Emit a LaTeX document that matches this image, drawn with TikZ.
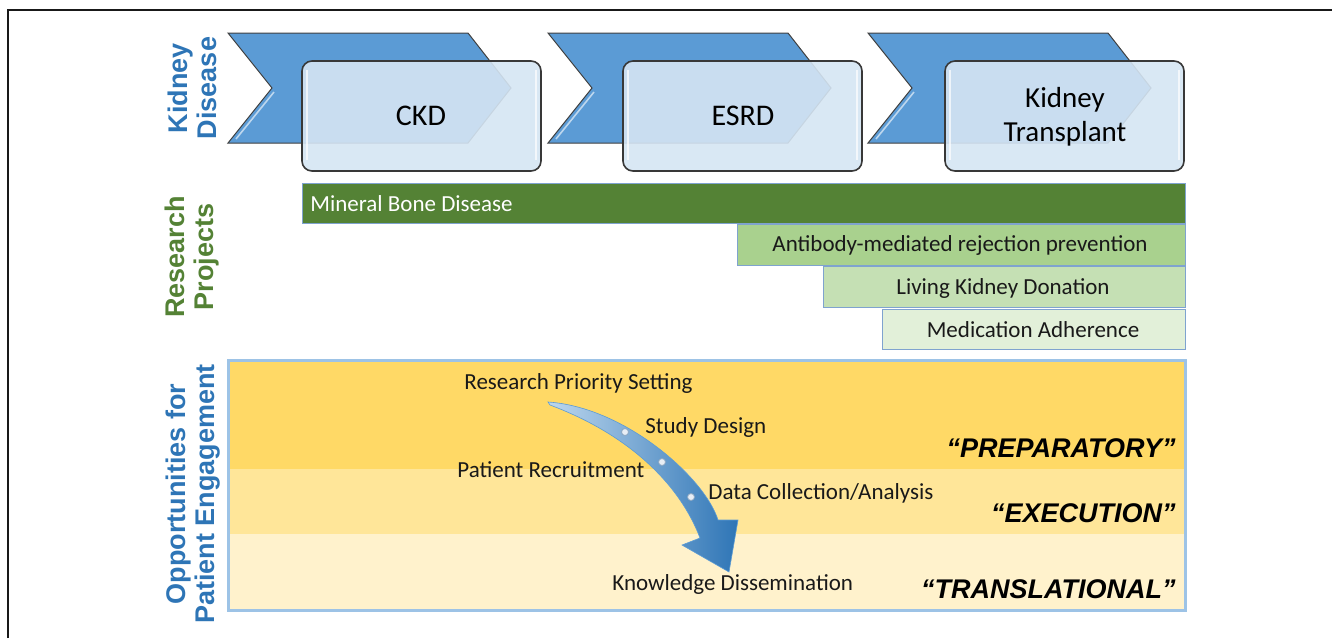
\documentclass[tikz,border=0pt]{standalone}
\usepackage{fontspec}
\setmainfont{Carlito}
\newfontfamily\arialfont{Liberation Sans}
\definecolor{chevblue}{HTML}{5B9BD5}
\definecolor{boxblue}{HTML}{D5E5F3}
\definecolor{labelblue}{HTML}{2E75B6}
\definecolor{labelgreen}{HTML}{548235}
\definecolor{greenA}{HTML}{548235}
\definecolor{greenB}{HTML}{A9D18E}
\definecolor{greenC}{HTML}{C5E0B4}
\definecolor{greenD}{HTML}{E2F0D9}
\definecolor{barline}{HTML}{7FA3CF}
\definecolor{bandA}{HTML}{FFD966}
\definecolor{bandB}{HTML}{FFE699}
\definecolor{bandC}{HTML}{FFF2CC}
\definecolor{bandframe}{HTML}{9DC3E6}
\definecolor{arrowlight}{HTML}{BDD7EE}
\definecolor{arrowmid}{HTML}{5B9BD5}
\definecolor{arrowdark}{HTML}{2E75B6}
\definecolor{dotfill}{HTML}{E8EEF5}
\definecolor{dotline}{HTML}{8AA6C2}
\begin{document}
\begin{tikzpicture}[x=0.5pt,y=-0.5pt,
  chev/.style={fill=chevblue, draw=black!75, line width=0.5pt, line join=miter},
  stagebox/.style={fill=boxblue, fill opacity=0.9, draw=black!78, line width=0.8pt, rounded corners=5pt},
  stagetext/.style={font=\fontsize{15}{17}\selectfont, align=center, text=black, inner sep=0pt},
  sidelabel/.style={rotate=90, align=center, inner sep=0pt, font=\arialfont\bfseries\fontsize{13.5}{14.5}\selectfont},
  bar/.style={draw=barline, line width=0.5pt},
  bartext/.style={font=\fontsize{11.5}{13}\selectfont, inner sep=0pt, text=black!90},
  steptext/.style={font=\fontsize{11.5}{13}\selectfont, inner sep=0pt, anchor=west, text=black!90},
  phase/.style={font=\arialfont\bfseries\itshape\fontsize{13.5}{16}\selectfont, anchor=east, inner sep=0pt}]
\useasboundingbox (0,0) rectangle (1332,638);

% outer frame (top and left edges)
\draw[line width=1pt, black!90] (8,638) -- (8,9.5) -- (1332,9.5);

% disease stages: chevrons
\foreach \x in {228,548,868} {
  \draw[chev] (\x,33) -- ++(240,0) -- ++(43,55) -- ++(-43,55) -- ++(-240,0) -- ++(44,-55) -- cycle;
  \draw[white, opacity=0.6, line width=0.8pt] (\x+46,92) -- (\x+8,139);
}
% disease stages: translucent boxes
\foreach \x in {302,623,945} {
  \draw[stagebox] (\x,61) rectangle ++(239,110);
  \draw[white, opacity=0.7, line width=0.8pt] (\x+5,70) -- (\x+5,160);
  \draw[white, opacity=0.7, line width=0.8pt] (\x+234,70) -- (\x+234,160);
}
\node[stagetext] (ckd) at (421,116) {CKD};
\node[stagetext] (esrd) at (743,116) {ESRD};
\node[stagetext, font=\fontsize{14.5}{17}\selectfont] (ktx) at (1065,117) {Kidney\\Transplant};

% research project bars
\draw[bar, fill=greenA] (302,183) rectangle (1185,223);
\node[bartext, anchor=west, text=white] (mbd) at (310,204) {Mineral Bone Disease};
\draw[bar, fill=greenB] (737,224) rectangle (1185,265);
\node[bartext] (amr) at (960,245) {Antibody-mediated rejection prevention};
\draw[bar, fill=greenC] (823,266) rectangle (1185,307);
\node[bartext] (lkd) at (1003,288) {Living Kidney Donation};
\draw[bar, fill=greenD] (882,309) rectangle (1185,349);
\node[bartext] (med) at (1033,330) {Medication Adherence};

% engagement bands
\fill[bandA] (228,360) rectangle (1185,469);
\fill[bandB] (228,469) rectangle (1185,534);
\fill[bandC] (228,534) rectangle (1185,610);
\draw[bandframe, line width=1.5pt] (228,360) rectangle (1185,610);

% curved process arrow
\shade[left color=arrowlight, middle color=arrowmid, right color=arrowdark, draw=chevblue, line width=0.3pt]
  (548,402) .. controls (625,407) and (705,478) .. (718,520)
  -- (738,520) -- (729,572) -- (682,545) -- (700,538)
  .. controls (680,485) and (630,435) .. (550,405) -- cycle;
\foreach \px/\py in {625/432,662/462,691/497} {
  \draw[fill=dotfill, draw=dotline, line width=0.4pt] (\px,\py) circle (3.5);
}

% engagement steps
\node[steptext] (rps) at (464,383) {Research Priority Setting};
\node[steptext] (sd) at (645,427) {Study Design};
\node[steptext] (pr) at (457,470) {Patient Recruitment};
\node[steptext] (dca) at (708,493) {Data Collection/Analysis};
\node[steptext] (kd) at (612,584) {Knowledge Dissemination};

% phase labels
\node[phase] (prep) at (1176,448) {“PREPARATORY”};
\node[phase] (exec) at (1176,513) {“EXECUTION”};
\node[phase] (trans) at (1176,589) {“TRANSLATIONAL”};

% row labels
\node[sidelabel, text=labelblue] (kdis) at (192,88) {Kidney\\Disease};
\node[sidelabel, text=labelgreen] (rproj) at (192,257) {Research\\Projects};
\node[sidelabel, text=labelblue] (ope) at (193,494) {Opportunities for\\Patient Engagement};
\end{tikzpicture}
\end{document}
